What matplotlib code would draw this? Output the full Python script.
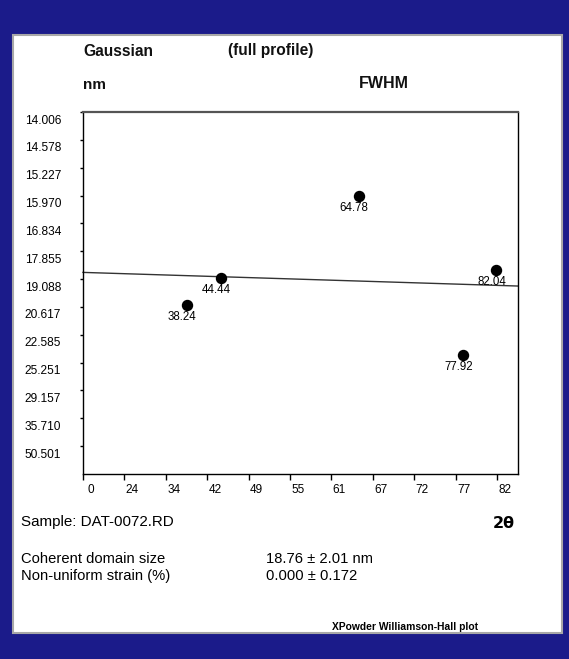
import matplotlib
matplotlib.use("Agg")
import matplotlib.pyplot as plt
import matplotlib.transforms as mtransforms
from matplotlib.patches import Rectangle

# ---- data ----
peak_labels = ["38.24", "44.44", "64.78", "77.92", "82.04"]
peak_x = [2.51, 3.33, 6.67, 9.19, 9.99]          # position along the x axis (tick units)
peak_y = [6.07, 7.04, 9.98, 4.27, 7.33]          # position along the y axis (tick units)
fit_x = [0.0, 10.51]
fit_y = [7.24, 6.75]

x_tick_labels = ["0", "24", "34", "42", "49", "55", "61", "67", "72", "77", "82"]
y_tick_labels = ["50.501", "35.710", "29.157", "25.251", "22.585", "20.617", "19.088",
                 "17.855", "16.834", "15.970", "15.227", "14.578", "14.006"]

W, H = 569, 659
BLUE = "#1b1b8a"
FONT = "Liberation Sans"

fig = plt.figure(figsize=(W / 100, H / 100), dpi=100)
fig.patch.set_facecolor(BLUE)

def fx(px):
    return px / W

def fy(py):
    return 1 - py / H

# white panel
panel = Rectangle((fx(13), fy(633)), fx(562) - fx(13), fy(35) - fy(633),
                  transform=fig.transFigure, facecolor="white",
                  edgecolor="#a8a8a8", linewidth=1.5, zorder=-10)
fig.patches.append(panel)

ax = fig.add_axes([fx(83), fy(474), fx(518) - fx(83), fy(112) - fy(474)])
ax.set_zorder(5)
ax.set_facecolor("none")
ax.set_xlim(0, 10.51)
ax.set_ylim(0, 13)

for s in ["left", "right", "bottom"]:
    ax.spines[s].set_color("black")
    ax.spines[s].set_linewidth(1.0)
ax.spines["top"].set_color("#555555")
ax.spines["top"].set_linewidth(1.6)

ax.set_xticks(range(len(x_tick_labels)))
ax.set_xticklabels(x_tick_labels, fontsize=8.5, family=FONT)
ax.set_yticks(range(1, len(y_tick_labels) + 1))
ax.set_yticklabels(y_tick_labels, fontsize=8.6, family=FONT)
ax.tick_params(axis="x", direction="out", length=4, width=1, pad=3)
ax.tick_params(axis="y", direction="out", length=2.5, width=1, pad=2)

offx = mtransforms.ScaledTranslation(8 / 100, 0, fig.dpi_scale_trans)
for lab in ax.get_xticklabels():
    lab.set_transform(lab.get_transform() + offx)
offy = mtransforms.ScaledTranslation(-52 / 100, -7 / 100, fig.dpi_scale_trans)
for lab in ax.get_yticklabels():
    lab.set_horizontalalignment("left")
    lab.set_transform(lab.get_transform() + offy)

# fit line
ax.plot(fit_x, fit_y, color="#333333", linewidth=1.0, zorder=2, clip_on=False)

# points
ax.plot(peak_x, peak_y, "o", color="black", markersize=7.2, zorder=3, clip_on=False)
for x, y, t in zip(peak_x, peak_y, peak_labels):
    ax.annotate(t, (x, y), xytext=(-3.6, -8.8), textcoords="offset points",
                ha="center", va="center", fontsize=8.3, family=FONT, zorder=4)

# header texts
fig.text(fx(83), fy(51), "Gaussian", fontsize=11.2, family=FONT, weight="bold",
         va="center", ha="left", color="#111111")
fig.text(fx(228), fy(51), "(full profile)", fontsize=11.2, family=FONT, weight="bold",
         va="center", ha="left", color="#111111")
fig.text(fx(83), fy(85), "nm", fontsize=11, family=FONT, weight="bold",
         va="center", ha="left", color="#111111")
fig.text(fx(359), fy(84), "FWHM", fontsize=11.5, family=FONT, weight="bold",
         va="center", ha="left", color="#111111")

# footer texts
fig.text(fx(21), fy(522), "Sample: DAT-0072.RD", fontsize=10.9, family=FONT,
         va="center", ha="left")
fig.text(fx(504), fy(523), "2θ", fontsize=11.5, family="DejaVu Sans", weight="bold",
         va="center", ha="center")
fig.text(fx(21), fy(559), "Coherent domain size", fontsize=10.6, family=FONT,
         va="center", ha="left")
fig.text(fx(21), fy(576), "Non-uniform strain (%)", fontsize=10.6, family=FONT,
         va="center", ha="left")
fig.text(fx(266), fy(559), "18.76 ± 2.01 nm", fontsize=10.6, family=FONT,
         va="center", ha="left")
fig.text(fx(266), fy(576), "0.000 ± 0.172", fontsize=10.6, family=FONT,
         va="center", ha="left")
fig.text(fx(332), fy(627), "XPowder Williamson-Hall plot", fontsize=7.4, family=FONT,
         weight="bold", va="center", ha="left")

fig.savefig("out.png", dpi=100, facecolor=fig.get_facecolor())
